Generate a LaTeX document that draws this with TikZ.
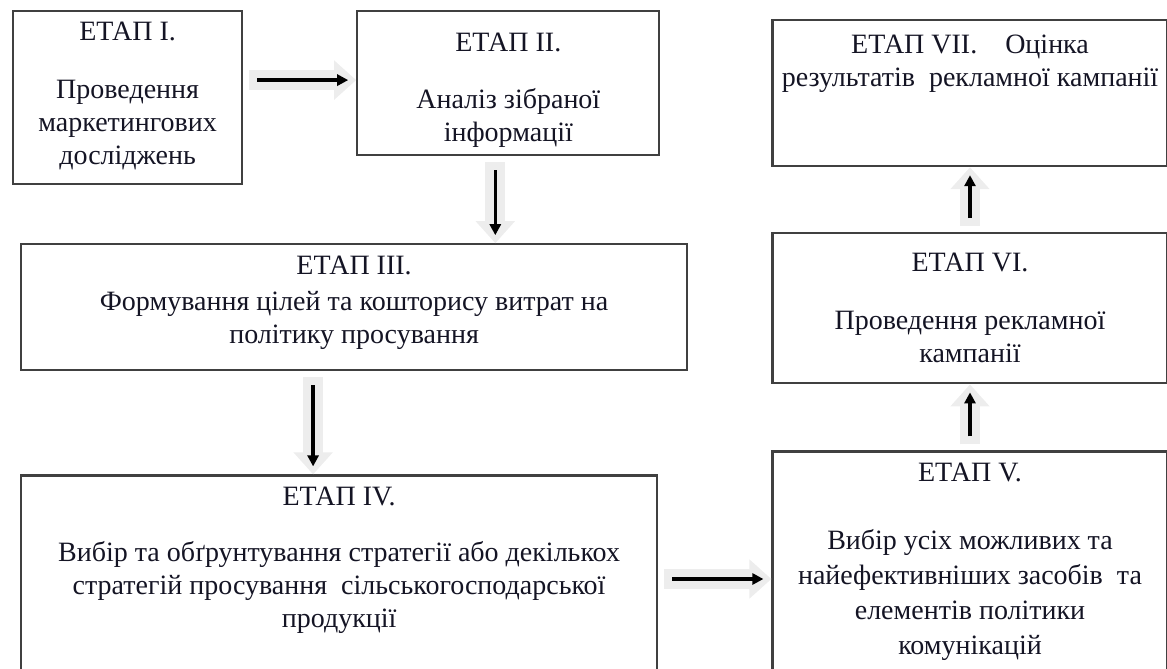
\documentclass[tikz,border=0pt]{standalone}
\usepackage{fontspec}
\setmainfont{Liberation Serif}
\usetikzlibrary{arrows.meta,positioning}
\definecolor{ink}{RGB}{20,20,36}
\tikzset{
  stage/.style={draw=black!75,line width=1.1pt,align=center,inner sep=0pt,
    text=ink,font=\fontsize{14}{16.5}\selectfont},
  blockarrow/.style={draw=black!7,line width=10pt,
    -{Triangle[length=11pt 0,width=19pt 0]},shorten <=3pt},
  arrow/.style={-{Triangle[length=5.5pt 0,width=5.5pt 0]},line width=1.8pt,
    shorten <=7pt,shorten >=4pt}
}

\begin{document}
\begin{tikzpicture}
\useasboundingbox (0,0) rectangle (583.5pt,-334.5pt);
\node[stage,minimum width=114.5pt,minimum height=86.5pt,anchor=north west] (st1) at (6pt,-5pt)
  {ЕТАП I.\\[12.5pt]Проведення\\маркетингових\\досліджень\\[-12pt]\mbox{}};
\node[stage,minimum width=151pt,minimum height=72pt,right=56.5pt of st1.north east,anchor=north west] (st2)
  {\mbox{}\\[-0.5pt]ЕТАП II.\\[12pt]Аналіз зібраної\\інформації};
\node[stage,minimum width=197.5pt,minimum height=73pt,right=55.5pt of st2.north east,anchor=north west,yshift=-4.5pt] (st7)
  {ЕТАП VII.\hspace{14pt}Оцінка\\результатів\ \ рекламної кампанії\\[15.5pt]\mbox{}};
\node[stage,minimum width=333pt,minimum height=63pt,below=29pt of st1.south west,anchor=north west,xshift=4pt] (st3)
  {ЕТАП III.\\[1.5pt]Формування цілей та кошторису витрат на\\політику просування\\[-9pt]\mbox{}};
\node[stage,minimum width=318pt,minimum height=98.5pt,below=51.5pt of st3.south west,anchor=north west] (st4)
  {ЕТАП IV.\\[11.5pt]Вибір та обґрунтування стратегії або декількох\\стратегій просування\ \ сільськогосподарської\\продукції\\[0pt]\mbox{}};
\node[stage,minimum width=197.5pt,minimum height=75pt,below=32.5pt of st7] (st6)
  {ЕТАП VI.\\[12.5pt]Проведення рекламної\\кампанії};
\node[stage,minimum width=197.5pt,minimum height=110pt,below=33pt of st6,font=\fontsize{14}{17.5}\selectfont] (st5)
  {ЕТАП V.\\[16.5pt]Вибір усіх можливих та\\найефективніших засобів\ \ та\\елементів політики\\комунікацій};
\path (st1.east |- st2.west) ++(0,1.5pt) coordinate (a12);
\path (st2.south) ++(-6.5pt,0) coordinate (a23);
\path (st3.south) ++(-20.5pt,0) coordinate (a34);
\path (st4.east) ++(0,-2.5pt) coordinate (a45);
\draw[blockarrow] (a12) -- (a12 -| st2.west);
\draw[arrow] (a12) -- (a12 -| st2.west);
\draw[blockarrow] (a23) -- (a23 |- st3.north);
\draw[arrow] (a23) -- (a23 |- st3.north);
\draw[blockarrow] (a34) -- (a34 |- st4.north);
\draw[arrow] (a34) -- (a34 |- st4.north);
\draw[blockarrow] (a45) -- (a45 -| st5.west);
\draw[arrow] (a45) -- (a45 -| st5.west);
\draw[blockarrow] (st5.north) -- (st6.south);
\draw[arrow] (st5.north) -- (st6.south);
\draw[blockarrow] (st6.north) -- (st7.south);
\draw[arrow] (st6.north) -- (st7.south);
\end{tikzpicture}
\end{document}
